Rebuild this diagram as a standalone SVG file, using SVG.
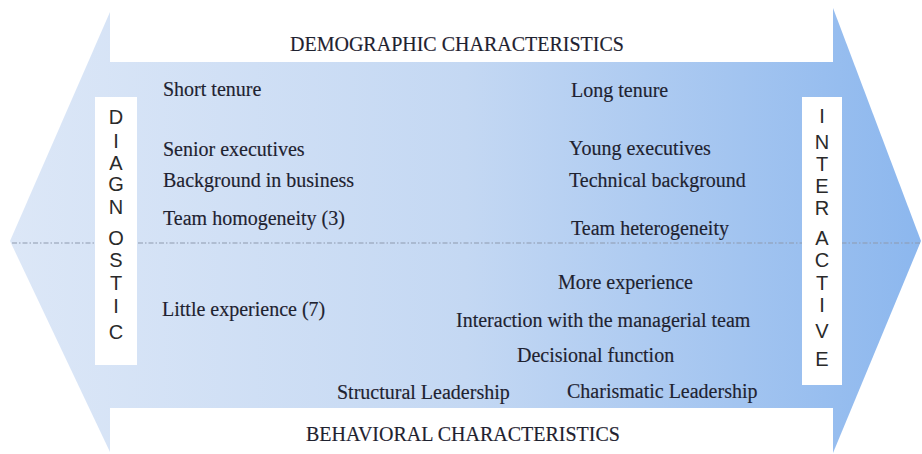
<svg xmlns="http://www.w3.org/2000/svg" width="922" height="454" viewBox="0 0 922 454">
<defs>
<linearGradient id="g" x1="10" y1="0" x2="921" y2="0" gradientUnits="userSpaceOnUse">
<stop offset="0" stop-color="#dce7f7"/>
<stop offset="0.5" stop-color="#c4d8f3"/>
<stop offset="1" stop-color="#8cb7ee"/>
</linearGradient>
</defs>
<style>
.t{font-family:"Liberation Serif","Times New Roman",serif;font-size:20px;fill:#1e2230;stroke:#1e2230;stroke-width:0.15}
.h{font-family:"Liberation Serif","Times New Roman",serif;font-size:20px;fill:#1e2230;stroke:#1e2230;stroke-width:0.15;text-anchor:middle}
.v{font-family:"Liberation Sans",Arial,sans-serif;font-size:20px;fill:#2a2a2a;text-anchor:middle}
.box{fill:#ffffff}
</style>
<rect width="922" height="454" fill="#ffffff"/>
<g id="arrow">
<polygon points="10,241 110,12 833,8 921,241 833,453 110,452" fill="url(#g)"/>
</g>
<g id="connectors">
<line x1="12" y1="243" x2="920" y2="243" stroke="#8e99ae" stroke-width="1.2" stroke-dasharray="5 2 1.5 2"/>
</g>
<g id="demographic">
<rect class="box" x="110" y="0" width="723" height="62"/>
<text class="h" x="457" y="51">DEMOGRAPHIC CHARACTERISTICS</text>
</g>
<g id="behavioral">
<rect class="box" x="110" y="408" width="723" height="46"/>
<text class="h" x="463" y="441">BEHAVIORAL CHARACTERISTICS</text>
</g>
<g id="diagnostic">
<rect class="box" x="95" y="97" width="42" height="268"/>
<text class="v" x="116" y="124">D</text>
<text class="v" x="116" y="148">I</text>
<text class="v" x="116" y="170">A</text>
<text class="v" x="116" y="191">G</text>
<text class="v" x="116" y="214">N</text>
<text class="v" x="116" y="245">O</text>
<text class="v" x="116" y="267">S</text>
<text class="v" x="116" y="290">T</text>
<text class="v" x="116" y="313">I</text>
<text class="v" x="116" y="339">C</text>
</g>
<g id="interactive">
<rect class="box" x="802" y="97" width="40" height="288"/>
<text class="v" x="822" y="123">I</text>
<text class="v" x="822" y="149">N</text>
<text class="v" x="822" y="171">T</text>
<text class="v" x="822" y="193">E</text>
<text class="v" x="822" y="215">R</text>
<text class="v" x="822" y="245">A</text>
<text class="v" x="822" y="267">C</text>
<text class="v" x="822" y="290">T</text>
<text class="v" x="822" y="312">I</text>
<text class="v" x="822" y="338">V</text>
<text class="v" x="822" y="366">E</text>
</g>
<g id="short-tenure"><text class="t" x="163" y="96">Short tenure</text></g>
<g id="senior-executives"><text class="t" x="163" y="156">Senior executives</text></g>
<g id="background-business"><text class="t" x="163" y="187">Background in business</text></g>
<g id="team-homogeneity"><text class="t" x="163" y="225">Team homogeneity (3)</text></g>
<g id="long-tenure"><text class="t" x="571" y="97">Long tenure</text></g>
<g id="young-executives"><text class="t" x="569" y="155">Young executives</text></g>
<g id="technical-background"><text class="t" x="569" y="187">Technical background</text></g>
<g id="team-heterogeneity"><text class="t" x="571" y="235">Team heterogeneity</text></g>
<g id="more-experience"><text class="t" x="558" y="289">More experience</text></g>
<g id="little-experience"><text class="t" x="162" y="316">Little experience (7)</text></g>
<g id="interaction"><text class="t" x="456" y="327">Interaction with the managerial team</text></g>
<g id="decisional-function"><text class="t" x="517" y="362">Decisional function</text></g>
<g id="structural-leadership"><text class="t" x="337" y="399">Structural Leadership</text></g>
<g id="charismatic-leadership"><text class="t" x="567" y="398">Charismatic Leadership</text></g>
</svg>
